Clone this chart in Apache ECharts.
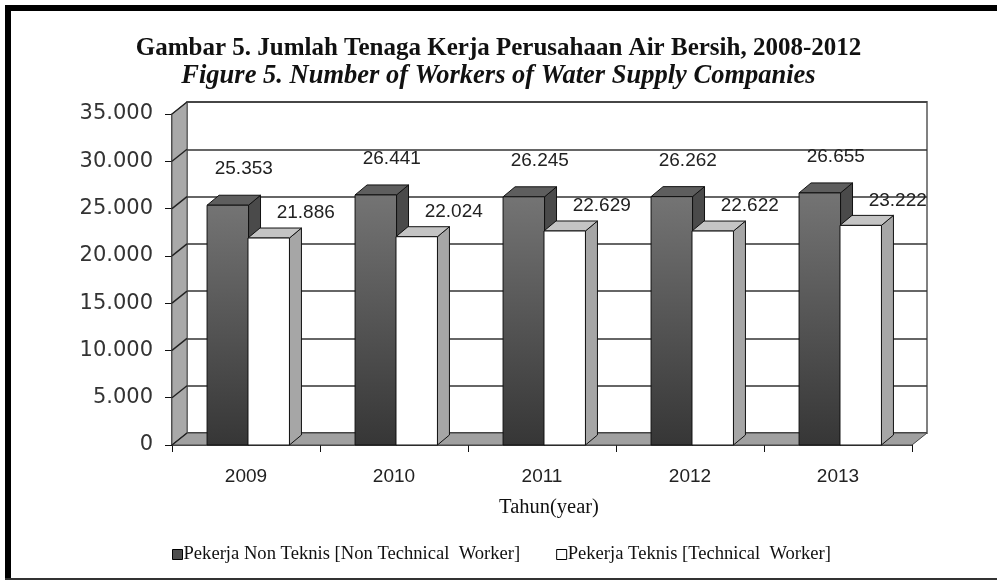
<!DOCTYPE html>
<html>
<head>
<meta charset="utf-8">
<script src="https://cdn.jsdelivr.net/npm/echarts@6/dist/echarts.min.js"></script>
<style>
html,body{margin:0;padding:0;background:#fff;overflow:hidden;}
.edge{position:absolute;}
#chart{position:absolute;left:0;top:0;width:997px;height:582px;}
</style>
</head>
<body>
<div class="edge" style="left:5px;top:5px;width:6px;height:575px;background:#000"></div>
<div class="edge" style="left:5px;top:5px;width:992px;height:6px;background:#000"></div>
<div class="edge" style="left:5px;top:578px;width:992px;height:2px;background:#333"></div>
<div id="chart"></div>
<script>
const titleLine1 = 'Gambar 5. Jumlah Tenaga Kerja Perusahaan Air Bersih, 2008-2012';
const titleLine2 = 'Figure 5. Number of Workers of Water Supply Companies';
const categories = ['2009', '2010', '2011', '2012', '2013'];
const nonTechnical = [25353, 26441, 26245, 26262, 26655];
const technical = [21886, 22024, 22629, 22622, 23222];
const yTicks = [0, 5000, 10000, 15000, 20000, 25000, 30000, 35000];
const seriesNames = ['Pekerja Non Teknis [Non Technical  Worker]', 'Pekerja Teknis [Technical  Worker]'];
const xAxisName = 'Tahun(year)';

function fmt(v) { return String(v).replace(/\B(?=(\d{3})+(?!\d))/g, '.'); }

const WALL_DX = 15, WALL_DY = -12;
const BAR_DX = 12, BAR_DY = -10;

const chart = echarts.init(document.getElementById('chart'), null, {renderer: 'canvas'});

function frameItem(params, api) {
  const cs = params.coordSys;
  const v = api.value(1);
  const p = api.coord([0, v]);
  const x0 = cs.x, x1 = cs.x + cs.width, yb = cs.y + cs.height, yt = cs.y;
  const children = [];
  if (params.dataIndex === 0) {
    children.push({
      type: 'polygon',
      shape: {points: [[x0, yt], [x0 + WALL_DX, yt + WALL_DY], [x0 + WALL_DX, yb + WALL_DY], [x0, yb]]},
      style: {fill: '#a9a9a9', stroke: '#555', lineWidth: 1}
    });
    children.push({
      type: 'polygon',
      shape: {points: [[x0, yb], [x1, yb], [x1 + WALL_DX, yb + WALL_DY], [x0 + WALL_DX, yb + WALL_DY]]},
      style: {fill: '#a0a0a0', stroke: '#444', lineWidth: 1}
    });
  }
  children.push({
    type: 'line',
    shape: {x1: x0, y1: p[1], x2: x0 + WALL_DX, y2: p[1] + WALL_DY},
    style: {stroke: '#222', lineWidth: 1.5}
  });
  return {type: 'group', children: children};
}

function barRenderer(kind) {
  return function (params, api) {
    const idx = api.value(0);
    const val = api.value(1);
    const top = api.coord([idx, val]);
    const base = api.coord([idx, 0]);
    const bw = api.size([1, 0])[0];
    const w = bw * 0.28;
    const left = kind === 0 ? top[0] - bw * 0.263 : top[0] + bw * 0.0135;
    const right = left + w;
    const yT = top[1], yB = base[1];
    const frontFill = kind === 0
      ? new echarts.graphic.LinearGradient(0, 0, 0, 1, [{offset: 0, color: '#747474'}, {offset: 1, color: '#363636'}])
      : '#ffffff';
    const topFill = kind === 0 ? '#5e5e5e' : '#c4c4c4';
    const sideFill = kind === 0 ? '#4a4a4a' : '#a6a6a6';
    const stroke = '#111';
    const label = kind === 0
      ? {x: (left + right) / 2 + 16, y: yT - 36}
      : {x: (left + right) / 2 + 37, y: yT - 25};
    return {
      type: 'group',
      children: [
        {type: 'polygon', shape: {points: [[right, yT], [right + BAR_DX, yT + BAR_DY], [right + BAR_DX, yB + BAR_DY], [right, yB]]},
         style: {fill: sideFill, stroke: stroke, lineWidth: 1}},
        {type: 'polygon', shape: {points: [[left, yT], [left + BAR_DX, yT + BAR_DY], [right + BAR_DX, yT + BAR_DY], [right, yT]]},
         style: {fill: topFill, stroke: stroke, lineWidth: 1}},
        {type: 'rect', shape: {x: left, y: yT, width: w, height: yB - yT},
         style: {fill: frontFill, stroke: stroke, lineWidth: 1}},
        {type: 'text', x: label.x, y: label.y,
         style: {text: fmt(val), fill: '#222', font: '19px "Liberation Sans", Arial, sans-serif', align: 'center', verticalAlign: 'middle'}}
      ]
    };
  };
}

const option = {
  backgroundColor: 'transparent',
  animation: false,
  title: [
    {text: titleLine1, left: 'center', top: 31,
     textStyle: {fontFamily: '"Liberation Serif", "Times New Roman", serif', fontWeight: 'bold', fontSize: 25, color: '#111'}},
    {text: titleLine2, left: 'center', top: 58,
     textStyle: {fontFamily: '"Liberation Serif", "Times New Roman", serif', fontWeight: 'bold', fontStyle: 'italic', fontSize: 26.5, color: '#111'}}
  ],
  legend: {
    left: 167, top: 540,
    itemWidth: 10, itemHeight: 10, itemGap: 36,
    icon: 'rect',
    data: seriesNames,
    textStyle: {fontFamily: '"Liberation Serif", "Times New Roman", serif', fontSize: 18.6, color: '#111', padding: [0, 0, 0, -4]},
    itemStyle: {borderColor: '#000', borderWidth: 1}
  },
  grid: [
    {left: 172, right: 85, top: 114, bottom: 137},
    {left: 187, right: 70, top: 102, bottom: 149, show: true, backgroundColor: '#fff', borderColor: '#808080', borderWidth: 2}
  ],
  xAxis: [
    {type: 'category', gridIndex: 0, data: categories,
     name: xAxisName, nameLocation: 'middle', nameGap: 52,
     nameTextStyle: {fontFamily: '"Liberation Serif", "Times New Roman", serif', fontSize: 20.5, color: '#111', padding: [0, 0, 0, 14]},
     axisLine: {show: true, lineStyle: {color: '#111', width: 1.5}},
     axisTick: {show: true, length: 7, lineStyle: {color: '#111'}},
     axisLabel: {margin: 22, fontFamily: '"Liberation Sans", Arial, sans-serif', fontSize: 19, color: '#222'},
     splitLine: {show: false}},
    {type: 'category', gridIndex: 1, data: categories, show: false}
  ],
  yAxis: [
    {type: 'value', gridIndex: 0, min: 0, max: 35000, interval: 5000,
     axisLine: {show: true, lineStyle: {color: '#111', width: 1.5}},
     axisTick: {show: true, length: 7, lineStyle: {color: '#111'}},
     axisLabel: {margin: 19, formatter: fmt, fontFamily: '"DejaVu Sans", Verdana, sans-serif', fontSize: 21, color: '#333'},
     splitLine: {show: false}},
    {type: 'value', gridIndex: 1, min: 0, max: 35000, interval: 5000,
     axisLine: {show: false}, axisTick: {show: false}, axisLabel: {show: false},
     splitLine: {show: true, lineStyle: {color: '#333', width: 1.6}}}
  ],
  series: [
    {type: 'custom', name: 'frame', xAxisIndex: 0, yAxisIndex: 0, z: 1, silent: true,
     renderItem: frameItem, data: yTicks.map(v => [0, v])},
    {type: 'custom', name: seriesNames[0], xAxisIndex: 0, yAxisIndex: 0, z: 3,
     itemStyle: {color: '#4d4d4d', borderColor: '#000'},
     renderItem: barRenderer(0), data: nonTechnical.map((v, i) => [i, v])},
    {type: 'custom', name: seriesNames[1], xAxisIndex: 0, yAxisIndex: 0, z: 4,
     itemStyle: {color: '#ffffff', borderColor: '#000'},
     renderItem: barRenderer(1), data: technical.map((v, i) => [i, v])}
  ]
};
chart.setOption(option);
</script>
</body>
</html>
